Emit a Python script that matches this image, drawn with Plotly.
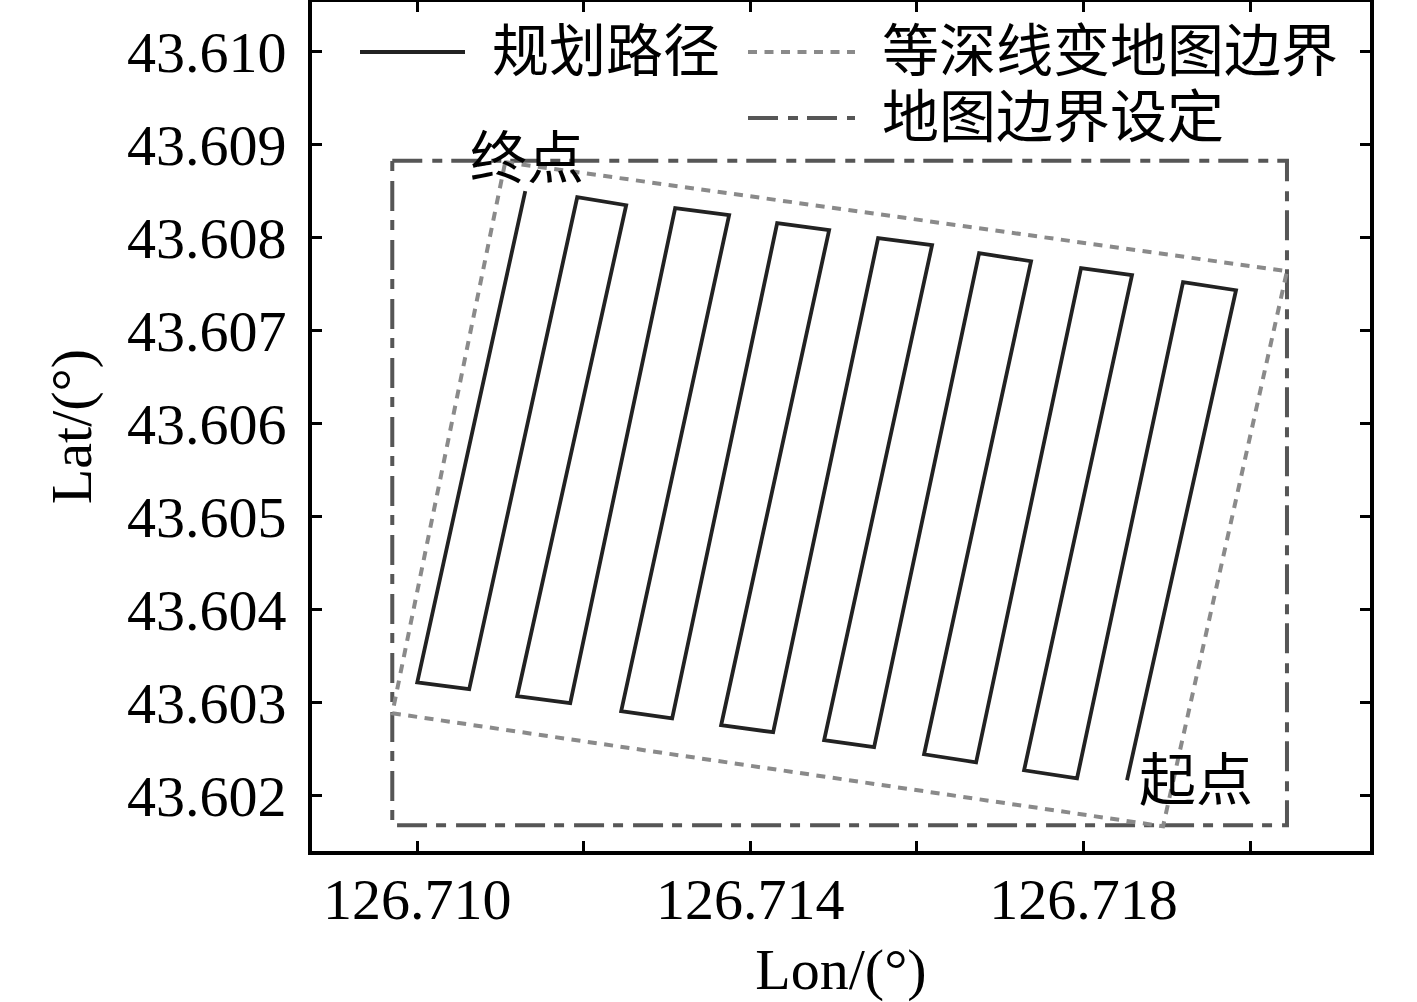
import plotly.graph_objects as go

# ---- data (lon / lat in degrees) ----
path_lon = [126.718523, 126.719832, 126.719196, 126.717923, 126.717287, 126.718583,
            126.717971, 126.716711, 126.716086, 126.717371, 126.716747, 126.715486,
            126.714886, 126.716182, 126.715534, 126.714274, 126.713649, 126.714946,
            126.714322, 126.713061, 126.712449, 126.713745, 126.713097, 126.711837,
            126.711200, 126.712509, 126.711921, 126.710624, 126.710000, 126.711297]
path_lat = [43.602167, 43.607435, 43.607522, 43.602188, 43.602274, 43.607597,
            43.607672, 43.602360, 43.602446, 43.607747, 43.607833, 43.602522,
            43.602597, 43.607919, 43.607995, 43.602683, 43.602758, 43.608081,
            43.608156, 43.602833, 43.602909, 43.608242, 43.608317, 43.602995,
            43.603070, 43.608349, 43.608435, 43.603145, 43.603220, 43.608500]

contour_lon = [126.711056, 126.720444, 126.718956, 126.709700, 126.711056]
contour_lat = [43.608812, 43.607640, 43.601672, 43.602887, 43.608812]

bound_lon = [126.709700, 126.720444, 126.720444, 126.709700, 126.709700]
bound_lat = [43.608826, 43.608826, 43.601683, 43.601683, 43.608826]

start_label = "起点"
start_pos = (126.719352, 43.602167)
end_label = "终点"
end_pos = (126.711320, 43.608850)

x_tick_vals = [126.710, 126.712, 126.714, 126.716, 126.718, 126.720]
x_tick_text = ["126.710", "", "126.714", "", "126.718", ""]
y_tick_vals = [43.602, 43.603, 43.604, 43.605, 43.606, 43.607, 43.608, 43.609, 43.610]
y_tick_text = ["43.602", "43.603", "43.604", "43.605", "43.606", "43.607", "43.608", "43.609", "43.610"]

legend_names = ["规划路径", "等深线变地图边界", "地图边界设定"]

# ---- styles ----
FONT = "Liberation Serif, 'Times New Roman', 'Noto Sans CJK SC', serif"
PATH_COLOR = "#222222"
CONTOUR_COLOR = "#8a8a8a"
BOUND_COLOR = "#565656"
CONTOUR_DASH = "9px,7.5px"
BOUND_DASH = "30px,10px,10px,9px"

fig = go.Figure()
fig.add_trace(go.Scatter(x=bound_lon, y=bound_lat, mode="lines", name=legend_names[2],
                         line=dict(color=BOUND_COLOR, width=4, dash=BOUND_DASH),
                         showlegend=False, hoverinfo="skip"))
fig.add_trace(go.Scatter(x=contour_lon, y=contour_lat, mode="lines", name=legend_names[1],
                         line=dict(color=CONTOUR_COLOR, width=4, dash=CONTOUR_DASH),
                         showlegend=False, hoverinfo="skip"))
fig.add_trace(go.Scatter(x=path_lon, y=path_lat, mode="lines", name=legend_names[0],
                         line=dict(color=PATH_COLOR, width=3.8),
                         showlegend=False, hoverinfo="skip"))

# point labels
fig.add_annotation(x=start_pos[0], y=start_pos[1], text=start_label, showarrow=False,
                   font=dict(family=FONT, size=57, color="black"))
fig.add_annotation(x=end_pos[0], y=end_pos[1], text=end_label, showarrow=False,
                   font=dict(family=FONT, size=57, color="black"))

# manual legend (keys drawn in paper space)
W, H, L, B = 1058.0, 849.0, 312.0, 851.0
def px(xp):
    return (xp - L) / W
def py(yp):
    return (B - yp) / H

legend_rows = [
    (360, 465, 52, 490, legend_names[0], dict(color=PATH_COLOR, width=3.8)),
    (748, 855, 52, 880, legend_names[1], dict(color=CONTOUR_COLOR, width=4, dash=CONTOUR_DASH)),
    (748, 855, 118, 880, legend_names[2], dict(color=BOUND_COLOR, width=4, dash=BOUND_DASH)),
]
for x0, x1, yy, xt, name, ln in legend_rows:
    fig.add_shape(type="line", xref="paper", yref="paper",
                  x0=px(x0), x1=px(x1), y0=py(yy), y1=py(yy), line=ln)
    fig.add_annotation(xref="paper", yref="paper", x=px(xt), y=py(yy), text=name,
                       showarrow=False, xanchor="left", yanchor="middle",
                       font=dict(family=FONT, size=57, color="black"))

axis_common = dict(showline=True, linecolor="black", linewidth=4, mirror="ticks",
                   ticks="inside", ticklen=10, tickwidth=3, tickcolor="black",
                   showgrid=False, zeroline=False,
                   tickfont=dict(family=FONT, size=58, color="black"))

fig.update_xaxes(range=[126.708736, 126.721441], tickmode="array",
                 tickvals=x_tick_vals, ticktext=x_tick_text,
                 ticklabelstandoff=-6,
                 title=dict(text="Lon/(°)", font=dict(family=FONT, size=58, color="black"),
                            standoff=19),
                 **axis_common)
fig.update_yaxes(range=[43.601406, 43.610534], tickmode="array",
                 tickvals=y_tick_vals, ticktext=y_tick_text,
                 ticklabelstandoff=10,
                 title=dict(text="Lat/(°)", font=dict(family=FONT, size=58, color="black"),
                            standoff=18),
                 **axis_common)

fig.update_layout(width=1417, height=1002,
                  margin=dict(l=312, r=47, t=2, b=151, autoexpand=False),
                  paper_bgcolor="white", plot_bgcolor="white",
                  showlegend=False)

fig.write_html("out.html", config={"displayModeBar": False},
               post_script="document.body.style.margin='0';")
